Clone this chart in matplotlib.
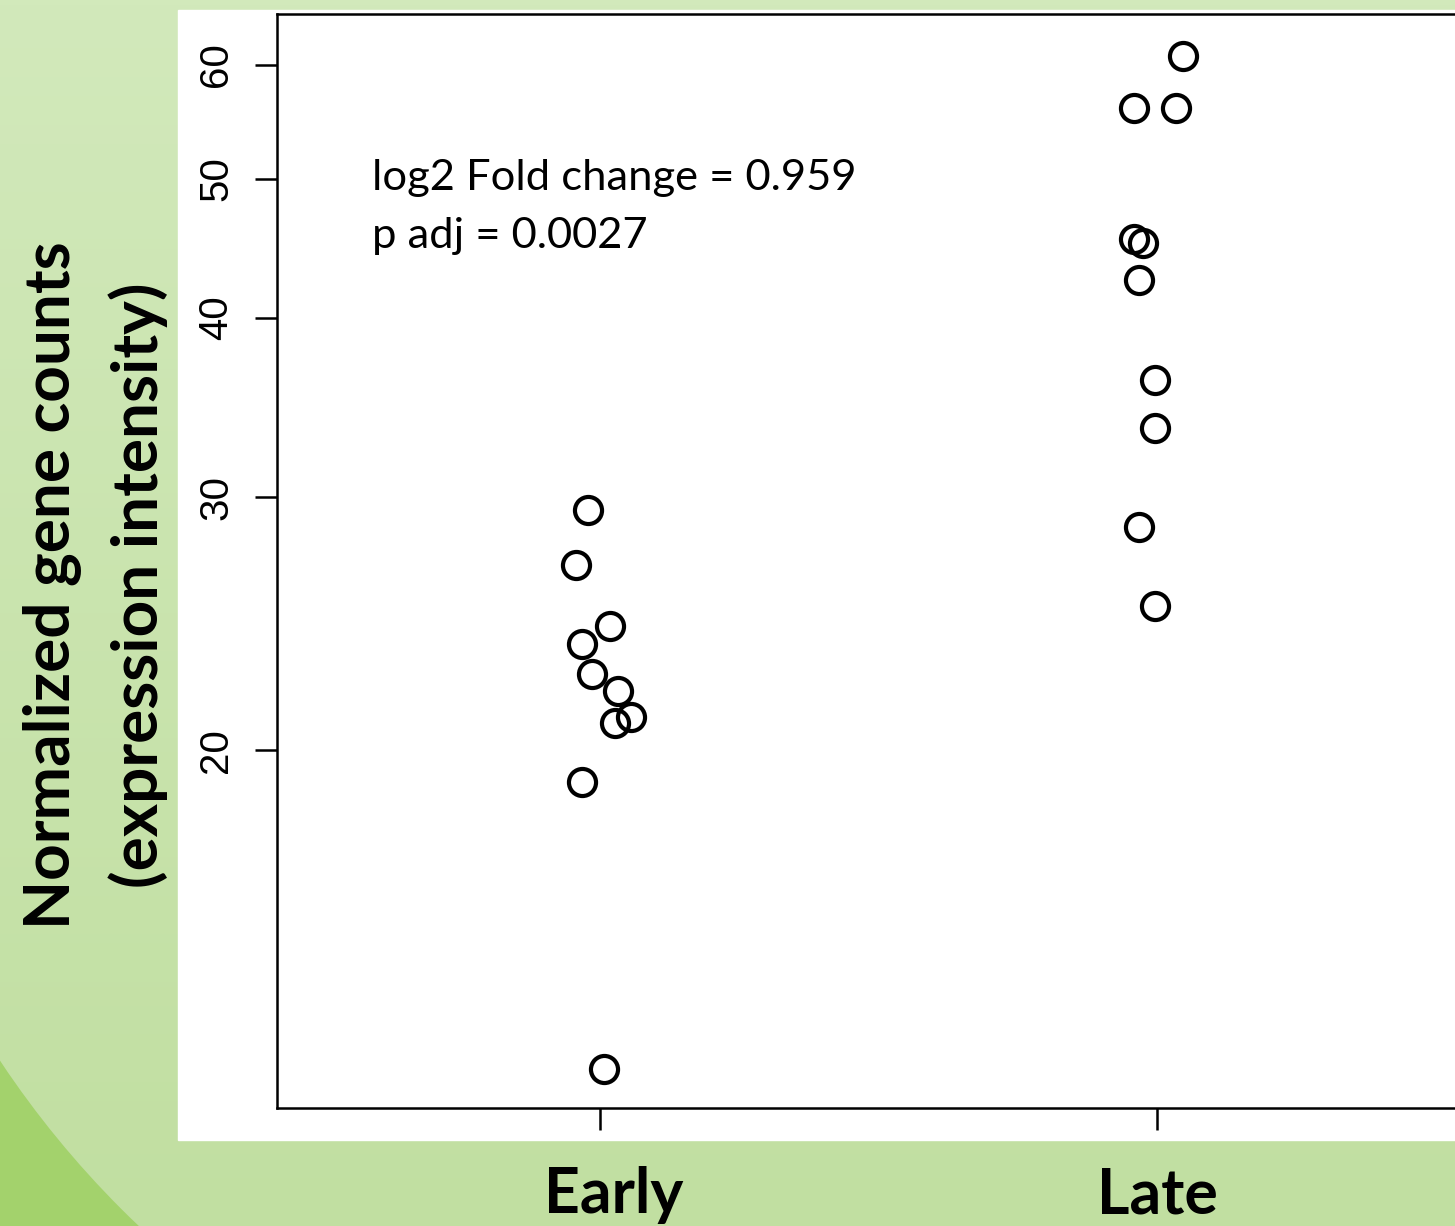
import numpy as np
import matplotlib
matplotlib.use("Agg")
import matplotlib.pyplot as plt
from matplotlib.patches import Circle, Rectangle
from matplotlib.ticker import FixedLocator, NullLocator, FixedFormatter
from matplotlib.transforms import ScaledTranslation

# ---- data ----
categories = ["Early", "Late"]
early_values = [29.4, 26.9, 24.4, 23.7, 22.6, 22.0, 20.9, 21.1, 19.0, 12.0]
late_values = [60.9, 56.0, 56.0, 45.4, 45.1, 42.5, 36.2, 33.5, 28.6, 25.2]
early_jitter = [-0.022, -0.043, 0.018, -0.032, -0.014, 0.032, 0.027, 0.056, -0.032, 0.007]
late_jitter = [0.047, -0.041, 0.034, -0.041, -0.025, -0.032, -0.004, -0.004, -0.032, -0.004]
y_ticks = [20, 30, 40, 50, 60]
annot_lines = ["log2 Fold change = 0.959", "p adj = 0.0027"]
ylabel_lines = ["Normalized gene counts", "(expression intensity)"]

W, H = 1455, 1226
fig = plt.figure(figsize=(W / 100, H / 100), dpi=100)

# ---- slide background ----
bg = fig.add_axes([0, 0, 1, 1])
bg.set_xlim(0, W)
bg.set_ylim(0, H)
bg.axis("off")
bg.add_patch(Rectangle((0, 0), W, H, color="#a3d26c", zorder=0))
top = np.array([0xd2, 0xe9, 0xbb]) / 255
bot = np.array([0xc1, 0xdf, 0xa1]) / 255
t = np.linspace(0, 1, 256)[:, None]
grad = (top[None, :] * (1 - t) + bot[None, :] * t)[:, None, :]
grad = np.repeat(grad, 2, axis=1)
im = bg.imshow(grad, extent=[0, W, 0, H], aspect="auto", zorder=1)
clip = Circle((800, H - 530), 960, transform=bg.transData)
im.set_clip_path(clip)
bg.add_patch(Rectangle((178, H - 1140), W - 178, 1130, color="white", zorder=2))

# ---- main axes ----
ax = fig.add_axes([277 / W, (H - 1108) / H, (1480 - 277) / W, (1108 - 14) / H])
ax.patch.set_alpha(0)
ax.set_yscale("log")
ax.set_xlim(0.42, 2.58)
ax.set_ylim(11.27, 65.1)

for i, (vals, jit) in enumerate([(early_values, early_jitter), (late_values, late_jitter)]):
    xs = [i + 1 + j for j in jit]
    ax.plot(xs, vals, linestyle="none", marker="o", markersize=19.5,
            markerfacecolor="none", markeredgecolor="black", markeredgewidth=3.0,
            clip_on=False)

for sp in ax.spines.values():
    sp.set_linewidth(1.8)

ax.yaxis.set_major_locator(FixedLocator(y_ticks))
ax.yaxis.set_major_formatter(FixedFormatter([str(v) for v in y_ticks]))
ax.yaxis.set_minor_locator(NullLocator())
ax.tick_params(axis="y", length=16, width=1.8, pad=14, labelsize=29,
               labelfontfamily="Liberation Sans", labelrotation=90)
for lab in ax.get_yticklabels():
    lab.set_va("center")

ax.set_xticks([1, 2])
ax.set_xticklabels(categories, fontweight="bold")
ax.tick_params(axis="x", length=16, width=1.8, pad=26, labelsize=45,
               labelfontfamily="Lato")
xl = ax.get_xticklabels()
xl[0].set_transform(xl[0].get_transform() + ScaledTranslation(0.14, 0, fig.dpi_scale_trans))

# annotation
fig.text(372 / W, 1 - 178 / H, annot_lines[0], fontsize=31.3, family="Lato",
         ha="left", va="center")
fig.text(372 / W, 1 - 236 / H, annot_lines[1], fontsize=31.3, family="Lato",
         ha="left", va="center")

# y label
fig.text(52 / W, 1 - 585 / H, ylabel_lines[0], fontsize=46, family="Lato",
         fontweight="bold", rotation=90, ha="center", va="center")
fig.text(138 / W, 1 - 585 / H, ylabel_lines[1], fontsize=46, family="Lato",
         fontweight="bold", rotation=90, ha="center", va="center")

fig.savefig("out.png", dpi=100)
